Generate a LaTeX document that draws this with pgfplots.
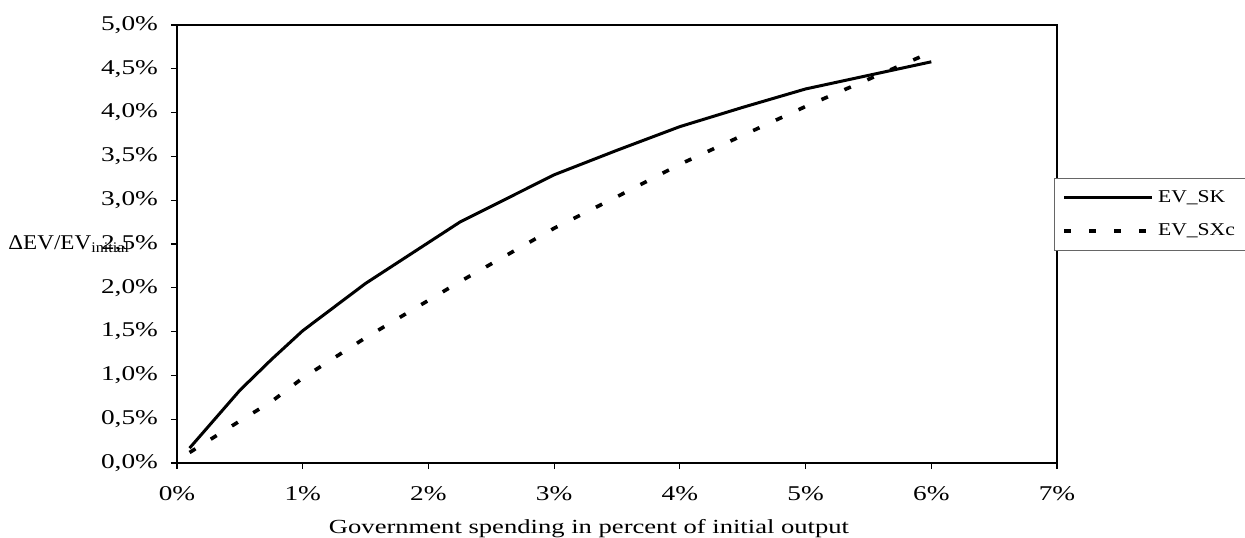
\documentclass[border=0pt]{standalone}
\usepackage{fontspec}
\setmainfont{Liberation Serif}
\usepackage{graphicx}
\usepackage{pgfplots}
\usepackage{pgfplotstable}
\pgfplotsset{compat=1.18}

% government spending (% of initial output) vs. change in EV (%)
\pgfplotstableread{
x    sk     sxc
0.1  0.17   0.12
0.3  0.50   0.30
0.5  0.83   0.48
0.75 1.18   0.70
1.0  1.51   0.97
1.25 1.78   1.20
1.5  2.05   1.43
2.25 2.75   2.07
3.0  3.29   2.68
3.5  3.57   3.04
4.0  3.84   3.41
4.5  4.06   3.74
5.0  4.27   4.07
6.0  4.58   4.69
}\evdata

% the reference text is set wide
\newcommand{\wide}[1]{\scalebox{1.3}[1]{#1}}

\begin{document}
\begin{tikzpicture}
\useasboundingbox (-88.5pt,-37pt) rectangle (534pt,231.5pt);
\clip (-88.5pt,-37pt) rectangle (534pt,231.5pt);
\begin{axis}[
    scale only axis,
    width=440pt, height=219pt,
    xmin=0, xmax=7, ymin=0, ymax=5,
    xtick={0,1,...,7},
    ytick={0,0.5,...,5},
    xtick pos=bottom, ytick pos=left,
    tick align=outside,
    major tick length=3pt,
    tick style={black, line width=0.6pt},
    axis line style={line width=1pt},
    /pgf/number format/assume math mode=true,
    xticklabel={\wide{\pgfmathprintnumber[fixed,precision=0]{\tick}\%}},
    yticklabel={\wide{\pgfmathprintnumber[fixed,fixed zerofill,precision=1,use comma]{\tick}\%}},
    ticklabel style={font=\fontsize{10.5}{12}\selectfont},
    xticklabel style={yshift=-5pt},
    yticklabel style={xshift=-3pt},
    xlabel={\scalebox{1.33}[1]{Government spending in percent of initial output}},
    xlabel style={font=\fontsize{10}{12}\selectfont, at={(axis description cs:0.5,0)}, anchor=center,
        yshift=-33pt, xshift=-14pt},
    every axis y label/.style={at={(axis description cs:0,0.5)}, anchor=west, xshift=-84.5pt,
        inner xsep=0pt, font=\fontsize{10.5}{12}\selectfont},
    ylabel={\scalebox{1.1}[1]{ΔEV/EV\textsubscript{initial}}},
    legend style={at={(rel axis cs:0.9966,0.6507)}, anchor=north west,
        draw=black!60, line width=0.5pt,
        font=\fontsize{9}{10}\selectfont,
        row sep=5pt, inner xsep=4pt, inner ysep=4pt},
    legend cell align=left,
    legend image code/.code={\draw[#1] (0pt,0pt) -- (44pt,0pt);},
]
\addplot[black, line width=1.5pt] table[x=x, y=sk] {\evdata};
\addplot[black, line width=1.8pt, dash pattern=on 3.5pt off 9pt] table[x=x, y=sxc] {\evdata};
\legend{\scalebox{1.2}[1]{EV\_SK}, \scalebox{1.2}[1]{EV\_SXc}}
\end{axis}
\end{tikzpicture}
\end{document}
